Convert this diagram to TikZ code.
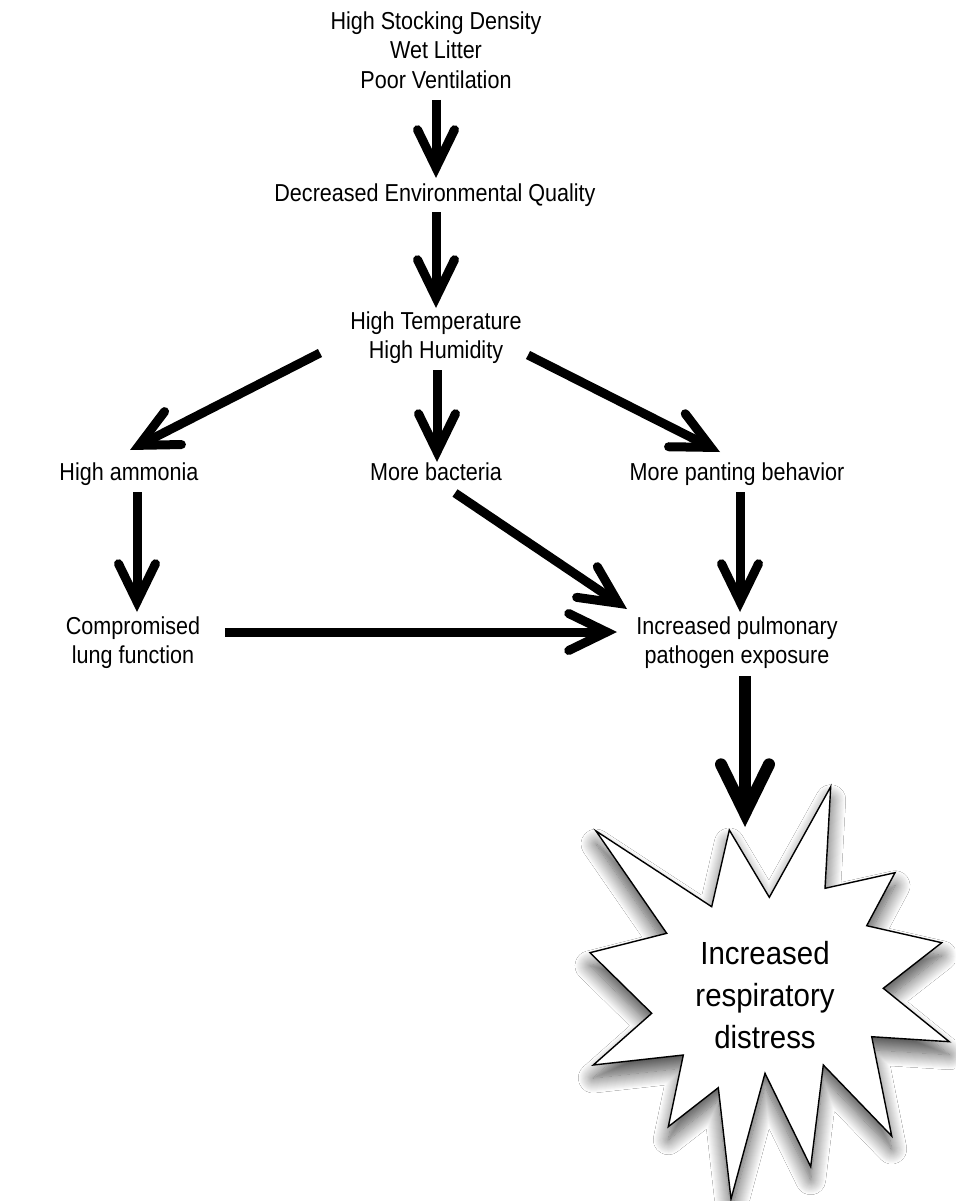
\documentclass[tikz,border=0pt]{standalone}
\usepackage{fontspec}
\setmainfont{Liberation Sans}[FakeStretch=0.88]
\newfontfamily\starfont{Liberation Sans}[FakeStretch=0.92]
\usetikzlibrary{arrows.meta,shadows.blur}
\begin{document}
\begin{tikzpicture}[x=1pt,y=-1pt,
  lbl/.style={inner sep=0pt, align=center, anchor=base, font=\fontsize{24.5}{29.5}\selectfont},
  arr/.style={line width=9pt, -{Straight Barb[length=38pt,width=37pt,line cap=round,line join=miter]}},
  bigarr/.style={line width=12pt, -{Straight Barb[length=49pt,width=48pt,line cap=round,line join=miter]}},
  burst/.style={fill=white, draw=black, line width=1.4pt, line join=miter,
    blur shadow={shadow xshift=0pt, shadow yshift=-13pt, shadow blur radius=15pt, shadow blur steps=16, shadow opacity=70}},
  bursttext/.style={inner sep=0pt, align=center, anchor=base, font=\starfont\fontsize{32}{42}\selectfont}
]
\useasboundingbox[fill=white] (0,0) rectangle (955,1201);

% nodes (base = baseline of the last line)
\node[lbl] (top)  at (436,88.5) {High Stocking Density\\Wet Litter\\Poor Ventilation};
\node[lbl] (dec)  at (435,201) {Decreased Environmental Quality};
\node[lbl] (ht)   at (436,358.5) {High Temperature\\High Humidity};
\node[lbl] (amm)  at (129,480) {High ammonia};
\node[lbl] (bac)  at (436,480) {More bacteria};
\node[lbl] (pant) at (737,480) {More panting behavior};
\node[lbl] (comp) at (133,663.5) {Compromised\\lung function};
\node[lbl] (inc)  at (737,663.5) {Increased pulmonary\\pathogen exposure};

% burst
\path[burst] (729.3,830) -- (769.3,897.3) -- (830.7,786.7) -- (825,888.3)
  -- (895,872.7) -- (866.7,925.7) -- (941.7,942.7) -- (883.3,988.3)
  -- (949.3,1041.7) -- (871.7,1036.7) -- (891.7,1136) -- (823.3,1065)
  -- (810.7,1166.7) -- (765,1073.3) -- (731,1199) -- (718.3,1087.7)
  -- (668.3,1126.7) -- (683.3,1055) -- (593.3,1065) -- (651.7,1013.3)
  -- (590,952.7) -- (666.7,933.3) -- (596,831) -- (711.7,906.7) -- cycle;
\node[bursttext] (dist) at (765,1048) {Increased\\respiratory\\distress};

% connectors
\draw[arr] ([shift={(0,11.5)}]top.base) -- ([shift={(1,-23)}]dec.base);
\draw[arr] ([shift={(1,11)}]dec.base) -- ([shift={(0,-50.5)}]ht.base);
\draw[arr] ([shift={(-116,-5.5)}]ht.base) -- ([shift={(1,-30)}]amm.base);
\draw[arr] ([shift={(1,11.5)}]ht.base) -- ([shift={(1,-18)}]bac.base);
\draw[arr] ([shift={(92,-3.5)}]ht.base) -- ([shift={(-17,-28)}]pant.base);
\draw[arr] ([shift={(8,12)}]amm.base) -- ([shift={(4,-51.5)}]comp.base);
\draw[arr] ([shift={(19,13)}]bac.base) -- ([shift={(-110,-54.5)}]inc.base);
\draw[arr] ([shift={(3,12)}]pant.base) -- ([shift={(3,-51.5)}]inc.base);
\draw[arr] ([shift={(92,-31.5)}]comp.base) -- ([shift={(-120,-31.5)}]inc.base);
\draw[bigarr] ([shift={(8,12.5)}]inc.base) -- ([shift={(-20,-221)}]dist.base);
\end{tikzpicture}
\end{document}
